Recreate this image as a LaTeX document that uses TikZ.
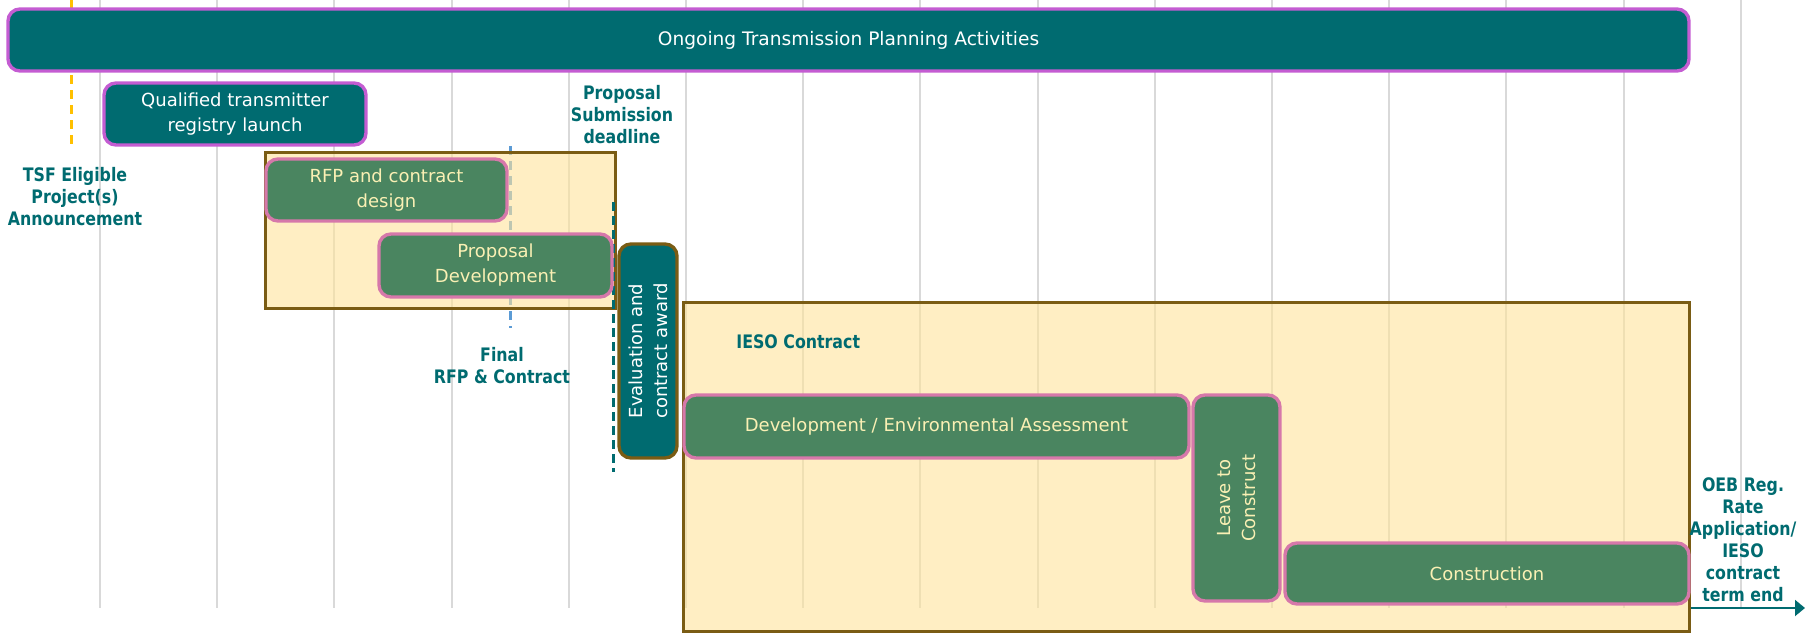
\documentclass[tikz,border=0pt]{standalone}
\usepackage{fontspec}
\setmainfont{DejaVu Sans}
\newfontfamily\labelfont{DejaVu Sans}[FakeStretch=0.85]
\usetikzlibrary{arrows.meta}

\definecolor{planteal}{RGB}{0,107,112}
\definecolor{barborder}{RGB}{196,92,210}
\definecolor{taskgreen}{RGB}{74,133,96}
\definecolor{taskborder}{RGB}{214,120,170}
\definecolor{tasktext}{RGB}{250,240,180}
\definecolor{phasefill}{RGB}{255,227,155}
\definecolor{phaseborder}{RGB}{122,92,20}
\definecolor{gridgray}{RGB}{217,217,217}
\definecolor{tsfyellow}{RGB}{255,192,0}
\definecolor{rfpblue}{RGB}{91,155,213}

\tikzset{
  gridline/.style={gridgray, line width=1pt},
  marker/.style={line width=1.5pt, dash pattern=on 4.5pt off 3pt},
  phase/.style={draw=phaseborder, line width=1.5pt, fill=phasefill, fill opacity=0.6, inner sep=0pt},
  bar/.style={draw=barborder, fill=planteal, line width=1.7pt, rounded corners=6pt,
    text=white, align=center, inner sep=0pt, font=\fontsize{9}{12.5}\selectfont},
  task/.style={bar, draw=taskborder, fill=taskgreen, text=tasktext},
  milestone/.style={text=planteal, align=center, inner sep=0pt,
    font=\labelfont\bfseries\fontsize{9.3}{11}\selectfont},
}

\begin{document}
\begin{tikzpicture}[x=0.5pt,y=-0.5pt]
  \useasboundingbox (0,0) rectangle (1806,633);
  % month grid
  \foreach \i in {0,...,14}
    \draw [gridline] (100+117.2*\i,0) -- (100+117.2*\i,608);
  % milestone markers
  \draw [marker, tsfyellow] (71,0) -- (71,150);
  \draw [marker, rfpblue] (510,146) -- (510,328);

  % phases
  \node [phase, minimum width=175pt, minimum height=78pt] (rfpphase) at (440,230) {};
  \node [phase, minimum width=503pt, minimum height=164.5pt] (iesophase) at (1186,466.5) {};
  \draw [marker, planteal, dash pattern=on 4.5pt off 2.5pt] (613,202) -- (613,472);

  % activities
  \node [bar, minimum width=840.5pt, minimum height=31pt, font=\fontsize{9.3}{12.5}\selectfont]
    (ongoing) at (848.5,40) {Ongoing Transmission Planning Activities};
  \node [bar, minimum width=131pt, minimum height=31pt] (registry) at (235,114)
    {Qualified transmitter\\registry launch};
  \node [task, minimum width=120.5pt, minimum height=31pt] (rfpdesign) at (386.5,190)
    {RFP and contract\\design};
  \node [task, minimum width=116.5pt, minimum height=31.5pt] (proposal) at (495.5,265.5)
    {Proposal\\Development};
  \node [bar, draw=phaseborder, rotate=90, minimum width=107pt, minimum height=29pt]
    (evaluation) at (648,351) {Evaluation and\\contract award};
  \node [task, minimum width=252.5pt, minimum height=31.5pt] (development) at (936.5,426.5)
    {Development / Environmental Assessment};
  \node [task, rotate=90, minimum width=103pt, minimum height=43.5pt] (leave) at (1236.5,498)
    {Leave to\\Construct};
  \node [task, minimum width=202pt, minimum height=30.5pt] (construction) at (1487,573.5)
    {Construction};

  % milestone labels
  \node [milestone] (tsf) at (75,197) {TSF Eligible\\Project(s)\\Announcement};
  \node [milestone] (deadline) at (622,115) {Proposal\\Submission\\deadline};
  \node [milestone] (finalrfp) at (502,366) {Final\\RFP \& Contract};
  \node [milestone, anchor=west] (iesolabel) at (736,342) {IESO Contract};
  \node [milestone] (oeb) at (1743,540) {OEB Reg.\\Rate\\Application/\\IESO\\contract\\term end};

  \coordinate (termend) at (1805,608);
  \draw [planteal, line width=1pt, -{Triangle[length=5pt,width=8pt]}] (iesophase.east |- termend) -- (termend);
\end{tikzpicture}
\end{document}
